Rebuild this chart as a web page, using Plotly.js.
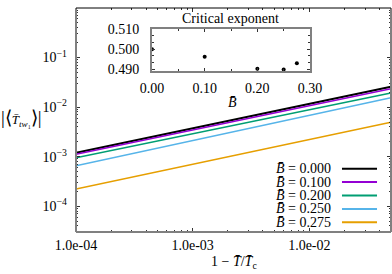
<!DOCTYPE html>
<html>
<head>
<meta charset="utf-8">
<script src="https://cdn.plot.ly/plotly-3.0.1.min.js"></script>
<style>html,body{margin:0;padding:0;background:#fff;}#chart{width:392px;height:274px;}</style>
</head>
<body>
<div id="chart"></div>
<script>
// ---- data ----
const seriesNames = ['0.000', '0.100', '0.200', '0.250', '0.275'];
const seriesColors = ['#000000', '#9400d3', '#009e73', '#56b4e9', '#e69f00'];
const seriesWidths = [2, 1.6, 1.6, 1.6, 1.6];
const xReduced = [1e-4, 0.05];
const yB0000 = [1.20e-3, 0.0258];
const yB0100 = [1.12e-3, 0.0235];
const yB0200 = [9.5e-4, 0.0193];
const yB0250 = [6.57e-4, 0.0155];
const yB0275 = [2.23e-4, 4.94e-3];
const seriesY = [yB0000, yB0100, yB0200, yB0250, yB0275];

const insetB = [0.000, 0.100, 0.200, 0.250, 0.275];
const insetExponent = [0.5000, 0.4963, 0.4903, 0.4899, 0.4930];

const xTickVals = [1e-4, 1e-3, 1e-2];
const xTickText = ['1.0e-04', '1.0e-03', '1.0e-02'];
const yTickVals = [1, 1e-1, 1e-2, 1e-3, 1e-4];
const yTickText = ['10<sup>0</sup>', '10<sup>−1</sup>', '10<sup>−2</sup>', '10<sup>−3</sup>', '10<sup>−4</sup>'];
const insetXTicks = [0, 0.1, 0.2, 0.3];
const insetXText = ['0.00', '0.10', '0.20', '0.30'];
const insetYTicks = [0.490, 0.500, 0.510];
const insetYText = ['0.490', '0.500', '0.510'];

const FONT = 'Liberation Serif';
const GRAY = '#808080';
const FS = 14;

const traces = seriesNames.map((n, i) => ({
  x: xReduced, y: seriesY[i], type: 'scatter', mode: 'lines',
  line: {color: seriesColors[i], width: seriesWidths[i]},
  xaxis: 'x', yaxis: 'y', showlegend: false, name: n
}));
traces.push({
  x: insetB, y: insetExponent, type: 'scatter', mode: 'markers',
  marker: {color: '#000', size: 4}, xaxis: 'x2', yaxis: 'y2', showlegend: false,
  cliponaxis: false
});

const shapes = [
  {type: 'line', xref: 'paper', yref: 'paper', x0: 0, x1: 0, y0: 0, y1: 1, line: {color: GRAY, width: 2}},
  {type: 'line', xref: 'paper', yref: 'paper', x0: 0, x1: 1, y0: 0, y1: 0, line: {color: GRAY, width: 2}},
  {type: 'line', xref: 'paper', yref: 'paper', x0: 1, x1: 1, y0: 0, y1: 1, line: {color: GRAY, width: 2}},
  {type: 'line', xref: 'paper', yref: 'paper', x0: 0, x1: 1, y0: 1, y1: 1, line: {color: '#000', width: 1}}
];
const annotations = [];
const legRowY = [0.2826, 0.2228, 0.1630, 0.1031, 0.0433];
seriesNames.forEach((n, i) => {
  shapes.push({type: 'line', xref: 'paper', yref: 'paper', x0: 0.8444, x1: 0.9556,
    y0: legRowY[i], y1: legRowY[i], line: {color: seriesColors[i], width: 2}});
  annotations.push({xref: 'paper', yref: 'paper', x: 0.8159, y: legRowY[i], xanchor: 'right',
    yanchor: 'middle', showarrow: false, text: '<i>B\u0304</i> = ' + n,
    font: {family: FONT, size: FS, color: '#000'}});
});
annotations.push({xref: 'paper', yref: 'paper', x: 0.5, y: -0.134, xanchor: 'center', yanchor: 'middle',
  showarrow: false, text: '1 − <i>T\u0304</i>/<i>T\u0304</i><sub>c</sub>', font: {family: FONT, size: FS, color: '#000'}});
annotations.push({xref: 'paper', yref: 'paper', x: -0.1746, y: 0.509, xanchor: 'center', yanchor: 'middle',
  showarrow: false,
  text: '<span style="font-size:19px">|⟨</span><i>T\u0304</i><sub><i>tw</i>₁</sub><span style="font-size:19px">⟩|</span>',
  font: {family: FONT, size: 13, color: '#000'}});
annotations.push({xref: 'paper', yref: 'paper', x: 0.489, y: 0.951, xanchor: 'center', yanchor: 'middle',
  showarrow: false, text: 'Critical exponent', font: {family: FONT, size: FS, color: '#000'}});
annotations.push({xref: 'paper', yref: 'paper', x: 0.498, y: 0.576, xanchor: 'center', yanchor: 'middle',
  showarrow: false, text: '<i>B\u0304</i>', font: {family: FONT, size: FS, color: '#000'}});

const layout = {
  width: 392, height: 274,
  margin: {l: 76, r: 1, t: 8, b: 42},
  paper_bgcolor: '#fff', plot_bgcolor: '#fff',
  font: {family: FONT, size: FS, color: '#000'},
  xaxis: {type: 'log', range: [-4, -1.30], showgrid: false, zeroline: false, showline: false,
    tickmode: 'array', tickvals: xTickVals, ticktext: xTickText,
    ticks: 'inside', ticklen: 4, tickwidth: 1, tickcolor: '#333', mirror: 'ticks',
    minor: {ticks: 'inside', ticklen: 2, tickcolor: '#333', dtick: 'D1', showgrid: false},
    tickfont: {family: FONT, size: FS}, ticklabelstandoff: 3},
  yaxis: {type: 'log', range: [-4.52, 0], showgrid: false, zeroline: false, showline: false,
    tickmode: 'array', tickvals: yTickVals, ticktext: yTickText,
    ticks: 'inside', ticklen: 4, tickwidth: 1, tickcolor: '#333', mirror: 'ticks',
    minor: {ticks: 'inside', ticklen: 2, tickcolor: '#333', dtick: 'D1', showgrid: false},
    tickfont: {family: FONT, size: FS}, ticklabelstandoff: 8},
  xaxis2: {domain: [0.2413, 0.7429], anchor: 'y2', range: [0, 0.3], showgrid: false, zeroline: false,
    showline: true, linecolor: GRAY, linewidth: 2, mirror: 'ticks',
    tickmode: 'array', tickvals: insetXTicks, ticktext: insetXText,
    ticks: 'inside', ticklen: 3, tickcolor: '#333',
    minor: {ticks: 'inside', ticklen: 2, dtick: 0.05, tickcolor: '#333', showgrid: false},
    tickfont: {family: FONT, size: FS}, ticklabelstandoff: 3},
  yaxis2: {domain: [0.720, 0.9076], anchor: 'x2', range: [0.4893, 0.5103], showgrid: false, zeroline: false,
    showline: true, linecolor: GRAY, linewidth: 2, mirror: 'ticks',
    tickmode: 'array', tickvals: insetYTicks, ticktext: insetYText,
    ticks: 'inside', ticklen: 3, tickcolor: '#333',
    minor: {ticks: 'inside', ticklen: 2, dtick: 0.01 / 3, tickcolor: '#333', showgrid: false},
    tickfont: {family: FONT, size: FS}, ticklabelstandoff: 8},
  shapes: shapes,
  annotations: annotations
};

Plotly.newPlot('chart', traces, layout, {staticPlot: true, displayModeBar: false});
</script>
</body>
</html>
